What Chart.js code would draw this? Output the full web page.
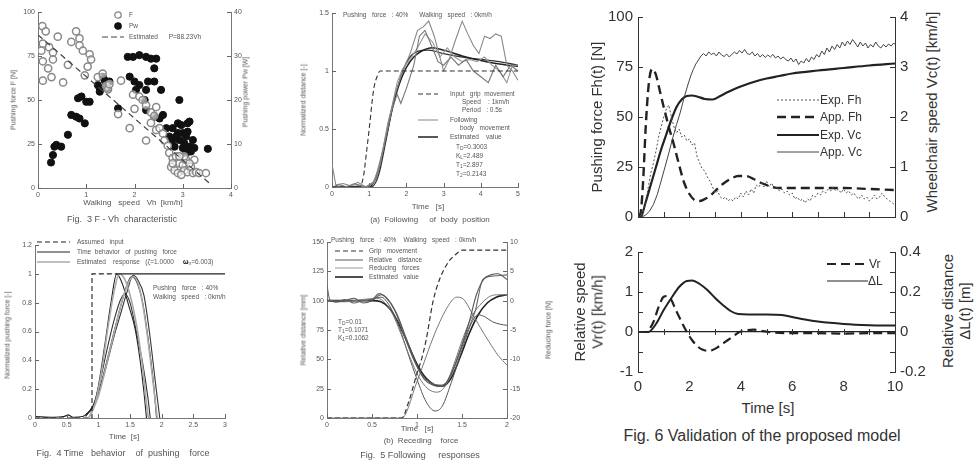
<!DOCTYPE html>
<html>
<head>
<meta charset="utf-8">
<script src="https://cdn.jsdelivr.net/npm/chart.js@4.4.1/dist/chart.umd.min.js"></script>
<style>
  body { margin:0; width:974px; height:465px; background:#fff; position:relative; overflow:hidden;
         font-family:'Liberation Sans', Arial, sans-serif; }
  canvas { position:absolute; }
  .t { position:absolute; white-space:nowrap; line-height:1; }
  .c { transform:translate(-50%,-50%); }
  .l { transform:translate(0,-50%); }
  .r { transform:translate(-50%,-50%) rotate(-90deg); }
  .lg { position:absolute; white-space:nowrap; line-height:1; display:flex; align-items:center; transform:translateY(-50%); }
  .lg svg { display:block; }
  .soft { filter:blur(0.4px); }
  sub { font-size:75%; vertical-align:-0.25em; line-height:0; }
</style>
</head>
<body>
<script>
// ---------------- Fig. 3  F - Vh characteristic ----------------
// [walking speed km/h, pushing force N]
const fig3Force = [[0.09,92],[0.16,89],[0.10,82],[0.23,80],[0.07,78],[0.31,77],[0.10,72],[0.21,68],[0.31,73],
  [0.10,61],[0.28,63],[0.41,86],[0.52,60],[0.62,70],[0.69,83],[0.79,89],[0.86,85],[0.86,81],[0.93,78],[1.07,76],
  [1.10,73],[0.97,64],[1.03,69],[1.24,63],[1.34,65],[1.41,58],[1.45,56],[1.48,59],[1.66,42],[1.72,61],[1.97,53],
  [2.00,45],[2.10,52],[2.17,50],[2.24,47],[2.34,43],[2.41,41],[2.45,46],[1.90,34],[2.24,27],[2.34,37],[2.45,33],
  [2.52,34],[2.59,31],[2.62,27],[2.69,24],[2.72,20],[2.79,17],[2.86,18],[2.93,14],[3.00,13],[3.03,10],[3.10,9],
  [3.07,16],[3.17,12],[3.21,8.5],[3.28,9],[3.34,8.5],[3.48,8.5],[2.76,12],[2.83,10],[2.90,8.5],[2.97,7.5],
  [3.24,16],[3.14,14],[3.03,18],[2.93,18],[2.79,14]];
// [walking speed km/h, pushing power W]
const fig3Power = [[0.27,5.8],[0.31,7.5],[0.34,9.4],[0.38,9.8],[0.48,9.4],[0.62,12.1],[0.69,16.6],[0.79,16.2],
  [0.86,15.8],[0.97,14.7],[0.83,20.4],[0.90,20.8],[1.00,19.6],[1.07,19.6],[1.24,23.4],[1.28,22.6],[1.34,25.3],
  [1.38,24.5],[1.41,23.4],[1.45,22.6],[1.28,21.9],[1.48,24.2],[1.66,18.1],[1.86,29.8],[1.97,29.8],[2.10,30.2],
  [2.24,29.8],[2.34,29.4],[2.45,29.4],[2.41,27.2],[1.90,25.3],[2.00,24.2],[2.10,23.4],[2.03,22.3],[2.24,22.3],
  [2.28,24.2],[2.41,24.2],[2.55,22.3],[2.21,20.0],[2.24,17.7],[2.41,16.2],[2.52,15.8],[2.59,16.6],[2.66,13.6],
  [2.79,13.6],[2.93,20.0],[2.90,14.7],[2.97,14.3],[3.10,14.7],[3.14,15.1],[2.72,11.7],[2.79,10.9],[2.86,11.7],
  [2.93,10.9],[3.00,12.5],[3.03,10.2],[3.07,11.7],[3.10,12.8],[3.14,9.4],[3.17,8.3],[3.21,10.9],[3.00,9.1],
  [2.83,9.4],[3.24,9.1],[3.52,8.9],[2.90,12.5],[3.07,7.9]];
const fig3Estimated = [[0,87],[3.55,2.8]];

// ---------------- Fig. 4  time behavior of pushing force ----------------
const fig4Input = [[0,0],[0.9,0],[0.9,1],[1.3,1],[3,1]];
const fig4TrialA = [[0,0.01],[0.3,0.005],[0.45,0.01],[0.53,0.02],[0.6,0.005],[0.75,0.01],[0.85,0.04],[0.92,0.08],
  [1.0,0.22],[1.1,0.5],[1.2,0.8],[1.29,1.0],[1.38,0.93],[1.48,0.78],[1.58,0.62],[1.66,0.4],[1.72,0.18],[1.76,0]];
const fig4TrialB = [[0.8,0.01],[0.95,0.12],[1.05,0.3],[1.15,0.5],[1.25,0.68],[1.35,0.82],[1.42,0.86],[1.5,0.8],
  [1.6,0.6],[1.7,0.38],[1.78,0.15],[1.82,0]];
const fig4TrialC = [[0.8,0.02],[0.95,0.1],[1.05,0.25],[1.15,0.42],[1.25,0.6],[1.35,0.77],[1.45,0.92],[1.52,0.98],
  [1.6,0.95],[1.7,0.8],[1.8,0.5],[1.88,0.2],[1.92,0]];
const fig4TrialD = [[0.8,0.02],[0.95,0.1],[1.05,0.24],[1.15,0.4],[1.25,0.57],[1.35,0.72],[1.45,0.87],[1.55,0.99],
  [1.62,0.96],[1.72,0.85],[1.82,0.55],[1.9,0.25],[1.97,0]];
const fig4EstA = [[0.85,0],[0.95,0.1],[1.05,0.32],[1.15,0.62],[1.25,0.88],[1.33,1.0],[1.42,0.96],[1.52,0.82],
  [1.62,0.6],[1.7,0.35],[1.76,0.1],[1.79,0]];
const fig4EstB = [[0.85,0],[1.0,0.15],[1.2,0.5],[1.4,0.85],[1.55,0.98],[1.65,0.9],[1.75,0.65],[1.85,0.3],[1.93,0]];

// ---------------- (a) following of body position ----------------
const figAInput = [[0,0],[0.74,0],[0.85,0.1],[0.92,0.28],[1.0,0.5],[1.12,0.84],[1.22,0.96],[1.3,1.0],[5,1.0]];
const figABody1 = [[0,0.2],[0.1,0.02],[0.3,0.03],[0.5,0.01],[0.7,0.04],[0.9,0.0],[1.1,0.03],[1.3,0.2],[1.5,0.55],
  [1.7,0.8],[1.9,1.0],[2.1,1.15],[2.3,1.35],[2.45,1.38],[2.6,1.43],[2.75,1.3],[2.9,1.12],[3.0,1.0],[3.15,1.1],
  [3.3,1.25],[3.5,1.43],[3.65,1.32],[3.8,1.22],[3.95,1.15],[4.1,1.3],[4.25,1.28],[4.4,1.32],[4.55,1.3],[4.7,1.05],
  [4.85,1.0],[5,0.92]];
const figABody2 = [[0,0],[0.2,0.02],[0.4,0.0],[0.6,0.03],[0.8,0.01],[1.0,0.0],[1.2,0.08],[1.4,0.35],[1.6,0.65],
  [1.75,0.8],[1.85,0.72],[2.0,0.85],[2.2,1.05],[2.35,1.3],[2.5,1.35],[2.7,1.2],[2.85,1.08],[3.0,1.05],[3.2,1.12],
  [3.4,1.05],[3.6,1.1],[3.8,1.0],[4.0,0.95],[4.2,0.9],[4.4,1.05],[4.6,0.95],[4.8,1.05],[5,1.0]];
const figABody3 = [[0,0],[0.3,0.0],[0.6,0.02],[0.9,0.0],[1.15,0.05],[1.35,0.3],[1.55,0.6],[1.75,0.9],[1.9,1.02],
  [2.1,1.1],[2.3,1.2],[2.5,1.32],[2.7,1.25],[2.9,1.12],[3.1,1.2],[3.3,1.12],[3.5,1.08],[3.7,1.1],[3.9,1.08],
  [4.1,1.12],[4.3,1.05],[4.5,1.0],[4.7,0.9],[4.85,1.05],[5,1.05]];
const figAEst1 = [[0,0],[1.0,0],[1.2,0.1],[1.4,0.35],[1.6,0.65],[1.8,0.88],[2.0,1.03],[2.2,1.12],[2.4,1.17],
  [2.7,1.2],[3.0,1.18],[3.5,1.13],[4,1.09],[4.5,1.06],[5,1.04]];
const figAEst2 = [[0,0],[1.05,0],[1.25,0.1],[1.45,0.4],[1.65,0.72],[1.85,0.95],[2.05,1.1],[2.3,1.17],[2.6,1.18],
  [3.0,1.15],[3.5,1.12],[4,1.1],[4.5,1.08],[5,1.05]];

// ---------------- (b) receding force ----------------
const figBGrip = [[0,0],[0.83,0],[0.9,12],[1.0,38],[1.05,50],[1.1,66],[1.18,100],[1.25,118],[1.35,133],
  [1.44,140],[1.5,143],[2.0,143]];
const figBDist1 = [[0,100],[0.1,99],[0.2,100],[0.3,102],[0.4,98],[0.5,100],[0.6,105],[0.68,101],[0.78,88],
  [0.88,68],[0.98,48],[1.08,33],[1.18,28],[1.28,27],[1.38,38],[1.48,58],[1.58,82],[1.66,105],[1.74,118],
  [1.82,122],[1.9,123],[2.0,118]];
const figBDist2 = [[0,113],[0.03,101],[0.1,99],[0.2,101],[0.3,98],[0.4,100],[0.5,101],[0.58,106],[0.65,103],
  [0.75,92],[0.85,72],[0.95,52],[1.05,37],[1.15,30],[1.25,28],[1.35,32],[1.45,50],[1.55,72],[1.65,92],
  [1.73,118],[1.85,121],[2.0,122]];
const figBDist3 = [[0,100],[0.2,99],[0.4,101],[0.55,102],[0.62,100],[0.72,90],[0.82,72],[0.92,52],[1.02,35],
  [1.12,25],[1.22,22],[1.32,28],[1.42,48],[1.52,70],[1.62,88],[1.72,98],[1.82,104],[1.9,105],[2.0,105]];
const figBDist4 = [[0,100],[0.3,100],[0.5,101],[0.6,103],[0.7,95],[0.8,78],[0.9,55],[1.0,33],[1.1,14],[1.2,6],
  [1.28,10],[1.38,30],[1.5,58],[1.6,80],[1.68,88],[1.76,86],[1.84,82],[1.92,80],[2.0,79]];
// reducing force, N (right axis)
const figBForce = [[0,-20],[0.83,-20],[1.0,-13.8],[1.2,-5.5],[1.35,-0.8],[1.44,0.6],[1.52,0.2],[1.6,-1.8],
  [1.7,-4.5],[1.8,-7],[1.9,-9.3],[2.0,-11]];
const figBEst = [[0,100],[0.5,100],[0.6,99],[0.7,93],[0.8,80],[0.9,63],[1.0,46],[1.1,34],[1.2,28],[1.28,27],
  [1.38,34],[1.48,52],[1.58,72],[1.68,88],[1.78,98],[1.88,103],[2.0,105]];

// ---------------- Fig. 6  validation of the proposed model ----------------
const fig6ExpFh = [[0,0],[0.1,0],[0.2,3],[0.3,8],[0.4,15],[0.5,22],[0.6,27],[0.7,33],[0.8,40],[0.9,45],[1.0,50],
  [1.1,54],[1.2,56],[1.3,50],[1.4,45],[1.5,42],[1.6,44],[1.7,40],[1.8,41],[1.9,38],[2.0,39],[2.1,36],[2.2,37],
  [2.3,30],[2.4,27],[2.5,24],[2.6,23],[2.7,20],[2.8,18],[2.9,15],[3.0,12],[3.1,13],[3.2,10],[3.3,9],[3.4,10],
  [3.5,8],[3.6,9],[3.7,8],[3.8,10],[3.9,9],[4.0,12],[4.1,10],[4.2,13],[4.3,11],[4.4,14],[4.5,12],[4.6,16],
  [4.7,15],[4.8,17],[4.9,15],[5.0,18],[5.1,15],[5.2,17],[5.3,14],[5.4,15],[5.5,13],[5.6,14],[5.7,12],[5.8,13],
  [5.9,11],[6.0,12],[6.1,9],[6.2,10],[6.3,8],[6.4,9],[6.5,7],[6.6,9],[6.7,8],[6.8,11],[6.9,10],[7.0,12],[7.1,11],
  [7.2,13],[7.3,12],[7.4,14],[7.5,13],[7.6,15],[7.7,13],[7.8,14],[7.9,12],[8.0,14],[8.1,12],[8.2,13],[8.3,11],
  [8.4,12],[8.5,10],[8.6,9],[8.7,11],[8.8,9],[8.9,10],[9.0,8],[9.1,9],[9.2,11],[9.3,9],[9.4,10],[9.5,12],
  [9.6,10],[9.7,9],[9.8,8],[9.9,7],[10,6]];
const fig6AppFh = [[0,0],[0.1,2],[0.2,18],[0.3,45],[0.4,64],[0.5,73],[0.58,74],[0.7,71],[0.85,63],[1.0,55],
  [1.2,45],[1.4,36],[1.6,26],[1.8,17],[2.0,11.5],[2.2,8.5],[2.4,8],[2.6,9],[2.8,10.5],[3.0,13],[3.3,16.5],
  [3.6,19],[3.9,20.5],[4.2,20.5],[4.5,19],[4.8,17],[5.1,15.5],[5.5,14.5],[6,14.5],[7,14.5],[8,14.5],[9,14],[10,13.5]];
const fig6ExpVc = [[0,0],[0.15,0],[0.3,0.04],[0.45,0.12],[0.6,0.25],[0.75,0.45],[0.9,0.72],[1.05,1.0],[1.2,1.28],
  [1.35,1.58],[1.5,1.85],[1.65,2.1],[1.8,2.4],[1.95,2.66],[2.05,2.82],[2.15,2.95],[2.25,3.06],[2.35,3.14],
  [2.45,3.22],[2.55,3.27],[2.65,3.22],[2.75,3.3],[2.85,3.25],[2.95,3.28],[3.05,3.22],[3.15,3.3],[3.25,3.24],
  [3.35,3.21],[3.45,3.26],[3.55,3.2],[3.65,3.25],[3.75,3.3],[3.85,3.26],[3.95,3.33],[4.05,3.28],[4.15,3.35],
  [4.25,3.27],[4.35,3.25],[4.45,3.3],[4.55,3.22],[4.65,3.27],[4.75,3.2],[4.85,3.25],[4.95,3.19],[5.05,3.24],
  [5.15,3.2],[5.25,3.25],[5.35,3.18],[5.45,3.22],[5.55,3.16],[5.65,3.2],[5.75,3.15],[5.85,3.12],[5.95,3.18],
  [6.05,3.1],[6.15,3.16],[6.25,3.05],[6.35,3.12],[6.45,3.08],[6.55,3.17],[6.65,3.1],[6.75,3.2],[6.85,3.15],
  [6.95,3.25],[7.05,3.2],[7.15,3.32],[7.25,3.25],[7.35,3.38],[7.45,3.3],[7.55,3.42],[7.65,3.35],[7.75,3.45],
  [7.85,3.38],[7.95,3.5],[8.05,3.42],[8.15,3.52],[8.25,3.45],[8.35,3.55],[8.45,3.48],[8.55,3.4],[8.65,3.5],
  [8.75,3.42],[8.85,3.48],[8.95,3.38],[9.05,3.45],[9.15,3.4],[9.25,3.5],[9.35,3.42],[9.45,3.38],[9.55,3.45],
  [9.65,3.4],[9.75,3.46],[9.85,3.42],[9.95,3.48],[10,3.45]];
const fig6AppVc = [[0,0],[0.1,0],[0.3,0.3],[0.5,0.65],[0.7,1.0],[0.9,1.35],[1.1,1.65],[1.3,1.95],[1.5,2.2],
  [1.7,2.35],[1.9,2.42],[2.1,2.43],[2.3,2.41],[2.6,2.36],[2.9,2.35],[3.2,2.42],[3.5,2.5],[3.8,2.57],[4.1,2.63],
  [4.5,2.7],[5,2.77],[5.5,2.82],[6,2.87],[7,2.93],[8,2.98],[9,3.03],[10,3.07]];
const fig6Vr = [[0,0],[0.3,0],[0.45,0.08],[0.6,0.25],[0.8,0.62],[1.0,0.88],[1.15,0.9],[1.3,0.8],[1.45,0.58],
  [1.6,0.38],[1.75,0.18],[1.9,0.0],[2.1,-0.2],[2.3,-0.35],[2.5,-0.44],[2.7,-0.47],[2.9,-0.45],[3.1,-0.38],
  [3.3,-0.29],[3.5,-0.2],[3.7,-0.11],[3.95,0.0],[4.2,0.04],[4.5,0.06],[4.8,0.03],[5.2,-0.01],[6,-0.03],
  [7,-0.03],[8,-0.04],[9,-0.03],[10,-0.03]];
const fig6DeltaL = [[0,0],[0.4,0],[0.7,0.04],[1.0,0.11],[1.3,0.17],[1.6,0.225],[1.9,0.255],[2.1,0.257],
  [2.4,0.24],[2.7,0.21],[3.0,0.17],[3.3,0.135],[3.6,0.105],[3.9,0.09],[4.3,0.088],[5.0,0.088],[5.6,0.085],
  [6.0,0.075],[6.5,0.062],[7.0,0.052],[8.0,0.04],[9.0,0.034],[10,0.032]];

// ---------------- helpers ----------------
const FONT = "'Liberation Sans', Arial, sans-serif";
const xy = pairs => pairs.map(([x, y]) => ({ x, y }));
let softText = true;   // small scanned-looking panels get a slight blur

function txt(html, x, y, size, cls, color, extra) {
  const d = document.createElement('div');
  d.className = 't ' + (cls || 'c') + (softText ? ' soft' : '');
  d.style.cssText = `left:${x}px;top:${y}px;font-size:${size}px;color:${color || '#555'};${extra || ''}`;
  d.innerHTML = html;
  document.body.appendChild(d);
}

// legend row: a line / marker sample followed by its label
function legRow(x, y, sample, label, size, color, gap) {
  const d = document.createElement('div');
  d.className = 'lg' + (softText ? ' soft' : '');
  d.style.cssText = `left:${x}px;top:${y}px;font-size:${size}px;color:${color}`;
  d.innerHTML = sample + `<span style="margin-left:${gap}px">${label}</span>`;
  document.body.appendChild(d);
}
const lineSample = (w, stroke, lw, dash) =>
  `<svg width="${w}" height="8"><line x1="0" y1="4" x2="${w}" y2="4" stroke="${stroke}" stroke-width="${lw}"` +
  (dash ? ` stroke-dasharray="${dash}"` : '') + `/></svg>`;
const dotSample = (w, fill, stroke) =>
  `<svg width="${w}" height="9"><circle cx="${w / 2}" cy="4.5" r="3.2" fill="${fill}" stroke="${stroke}" stroke-width="1.3"/></svg>`;

// canvas sized so the plot area lands on the given box
function frame(box, m) {
  const c = document.createElement('canvas');
  const w = box.r - box.l + m.l + m.r, h = box.b - box.t + m.t + m.b;
  c.width = w; c.height = h;
  c.style.cssText = `left:${box.l - m.l}px;top:${box.t - m.t}px;width:${w}px;height:${h}px;` + (m.css || '');
  document.body.appendChild(c);
  return c.getContext('2d');
}

function axis(pos, min, max, step, size, o) {
  o = o || {};
  const horiz = pos === 'bottom';
  return {
    type: 'linear', position: pos, min, max, display: true,
    ticks: { stepSize: step, autoSkip: false, maxRotation: 0, includeBounds: false,
             font: { family: FONT, size: o.font || 7 }, color: o.color || '#555', padding: o.pad || 3,
             callback: o.cb || (v => String(Math.round(v * 1000) / 1000)) },
    grid: o.grid || { display: true, drawOnChartArea: false, drawTicks: false },
    border: { display: o.border !== false, color: o.axisColor || '#777', width: o.bw || 1 },
    afterFit: s => {
      if (horiz) s.height = size; else s.width = size;
      s.paddingLeft = 0; s.paddingRight = 0; s.paddingTop = 0; s.paddingBottom = 0;
    }
  };
}

// short tick marks drawn on the inside of the plot area
const innerTicks = {
  id: 'innerTicks',
  afterDatasetsDraw(chart, args, opts) {
    const ctx = chart.ctx, a = chart.chartArea;
    ctx.save();
    ctx.strokeStyle = opts.color || '#666';
    ctx.lineWidth = opts.width || 1;
    for (const spec of (opts.axes || [])) {
      const sc = chart.scales[spec.id], len = spec.len || 4;
      for (const tk of sc.ticks) {
        const p = Math.round(sc.getPixelForValue(tk.value)) + 0.5;
        ctx.beginPath();
        if (sc.isHorizontal()) {
          const base = spec.atScale ? chart.scales[spec.atScale].getPixelForValue(spec.at) : a.bottom;
          if (spec.cross) { ctx.moveTo(p, base - len / 2); ctx.lineTo(p, base + len / 2); }
          else { ctx.moveTo(p, base); ctx.lineTo(p, base - len); }
        } else if (sc.position === 'left') {
          ctx.moveTo(a.left, p); ctx.lineTo(a.left + len, p);
        } else {
          ctx.moveTo(a.right, p); ctx.lineTo(a.right - len, p);
        }
        ctx.stroke();
      }
    }
    ctx.restore();
  }
};

function chart(ctx, datasets, scales, ticksSpec, padRight) {
  return new Chart(ctx, {
    type: 'scatter',
    data: { datasets },
    options: {
      responsive: false, animation: false, events: [],
      layout: { padding: { top: ctx.canvas._mt || 0, right: padRight || 0, left: 0, bottom: 0 } },
      plugins: { legend: { display: false }, tooltip: { enabled: false }, innerTicks: ticksSpec },
      elements: { point: { radius: 0 } },
      scales
    },
    plugins: [innerTicks]
  });
}

function line(data, color, width, o) {
  o = o || {};
  return Object.assign({
    data: xy(data), showLine: true, borderColor: color, borderWidth: width, pointRadius: 0,
    fill: false, tension: 0
  }, o);
}
const smooth = { cubicInterpolationMode: 'monotone' };

function make(box, m, datasets, scales, ticksSpec) {
  const ctx = frame(box, m);
  ctx.canvas._mt = m.t;
  return chart(ctx, datasets, scales, ticksSpec, scales.y2 ? 0 : m.r);
}

const SOFT = 'filter:blur(0.45px);';

// ================= Fig. 3 =================
make({ l: 38, t: 12, r: 231, b: 188 }, { l: 26, r: 16, t: 6, b: 14, css: SOFT }, [
  line(fig3Estimated, '#444', 1.2, { borderDash: [6, 4] }),
  { data: xy(fig3Force), pointRadius: 3.6, pointBorderColor: '#888', pointBackgroundColor: 'rgba(255,255,255,0.6)',
    pointBorderWidth: 1.5, yAxisID: 'y' },
  { data: xy(fig3Power), pointRadius: 3.6, pointBorderColor: '#111', pointBackgroundColor: '#111',
    pointBorderWidth: 1, yAxisID: 'y2' }
], {
  x: axis('bottom', 0, 4, 1, 14),
  y: axis('left', 0, 100, 25, 26),
  y2: axis('right', 0, 40, 10, 16)
}, { axes: [{ id: 'x' }, { id: 'y' }, { id: 'y2' }] });

txt('Pushing force F [N]', 13, 100, 7, 'r');
txt('Pushing power Pw [W]', 245, 92, 7, 'r');
txt('Walking&nbsp;&nbsp; speed&nbsp;&nbsp; Vh&nbsp; [km/h]', 133, 203, 8, 'c');
txt('Fig.&nbsp; 3 F - Vh&nbsp; characteristic', 122, 219, 9, 'c');
legRow(113, 15, dotSample(10, '#fff', '#888'), 'F', 6.5, '#555', 6);
legRow(113, 26, dotSample(10, '#111', '#111'), 'Pw', 6.5, '#555', 6);
legRow(102, 37, lineSample(22, '#444', 1.2, '6 3'), 'Estimated&nbsp;&nbsp;&nbsp;&nbsp;&nbsp; P=88.23Vh', 6.5, '#555', 5);

// ================= Fig. 4 =================
make({ l: 35, t: 245, r: 225, b: 418 }, { l: 20, r: 12, t: 8, b: 14, css: SOFT }, [
  line(fig4Input, '#222', 1.1, { segment: { borderDash: c => c.p0.parsed.x < 1.25 ? [5, 3] : undefined } }),
  line(fig4EstA, '#aaa', 1.6, smooth),
  line(fig4EstB, '#aaa', 1.6, smooth),
  line(fig4TrialA, '#222', 1.1, smooth),
  line(fig4TrialB, '#333', 1.1, smooth),
  line(fig4TrialC, '#222', 1.1, smooth),
  line(fig4TrialD, '#333', 1.1, smooth)
], {
  x: axis('bottom', 0, 3, 0.5, 14),
  y: axis('left', 0, 1.2, 0.2, 20)
}, { axes: [{ id: 'x' }, { id: 'y' }] });

txt('Normalized pushing force [-]', 7, 335, 7, 'r');
txt('Time&nbsp; [s]', 124, 437, 8, 'c');
txt('Fig.&nbsp; 4 Time&nbsp;&nbsp; behavior&nbsp;&nbsp;&nbsp; of&nbsp; pushing&nbsp;&nbsp;&nbsp; force', 123, 453, 9, 'c');
legRow(37, 242, lineSample(33, '#222', 1.1, '5 3'), 'Assumed&nbsp;&nbsp; input', 6.5, '#555', 7);
legRow(37, 252, lineSample(33, '#222', 1.2), 'Time&nbsp; behavior&nbsp;&nbsp; of&nbsp; pushing&nbsp;&nbsp; force', 6.5, '#555', 7);
legRow(37, 262, lineSample(33, '#aaa', 1.6), 'Estimated&nbsp;&nbsp;&nbsp; response&nbsp;&nbsp; (ζ=1.0000&nbsp;&nbsp;&nbsp;&nbsp; <b style="color:#000">ω</b><sub>n</sub>=6.003)', 6.5, '#555', 7);
txt('Pushing&nbsp;&nbsp; force&nbsp;&nbsp; : 40%', 153, 288, 6.5, 'l');
txt('Walking&nbsp;&nbsp; speed&nbsp;&nbsp; : 0km/h', 153, 297, 6.5, 'l');

// ================= (a) following of body position =================
make({ l: 332, t: 13, r: 518, b: 187 }, { l: 20, r: 10, t: 6, b: 14, css: SOFT }, [
  line(figAInput, '#333', 1.1, Object.assign({ borderDash: [5, 3] }, smooth)),
  line(figABody1, '#888', 1.1),
  line(figABody2, '#777', 1.1),
  line(figABody3, '#999', 1.1),
  line(figAEst1, '#222', 1.5, smooth),
  line(figAEst2, '#333', 1.3, smooth)
], {
  x: axis('bottom', 0, 5, 1, 14),
  y: axis('left', 0, 1.5, 0.5, 20)
}, { axes: [{ id: 'x' }, { id: 'y' }] });

txt('Normalized distance [-]', 303, 100, 7, 'r');
txt('Time&nbsp;&nbsp; [s]', 428, 207, 8, 'c');
txt('(a)&nbsp; Following&nbsp;&nbsp;&nbsp;&nbsp; of&nbsp; body&nbsp; position', 430, 220, 8, 'c');
txt('Pushing&nbsp;&nbsp; force&nbsp;&nbsp; : 40%&nbsp;&nbsp;&nbsp;&nbsp;&nbsp; Walking&nbsp;&nbsp; speed&nbsp;&nbsp; : 0km/h', 343, 15, 6.5, 'l');
legRow(418, 94, lineSample(20, '#333', 1.1, '5 3'), 'Input&nbsp;&nbsp; grip&nbsp; movement', 6.5, '#555', 12);
txt('Speed&nbsp;&nbsp;&nbsp; : 1km/h', 462, 102, 6.5, 'l');
txt('Period&nbsp;&nbsp; : 0.5s', 462, 110, 6.5, 'l');
legRow(418, 120, lineSample(20, '#999', 1.2), 'Following', 6.5, '#555', 12);
txt('body&nbsp;&nbsp; movement', 460, 128, 6.5, 'l');
legRow(418, 137, lineSample(20, '#222', 1.5), 'Estimated&nbsp;&nbsp;&nbsp; value', 6.5, '#555', 12);
txt('T<sub>D</sub>=0.3003', 456, 147, 6.5, 'l');
txt('K<sub>L</sub>=2.489', 456, 156, 6.5, 'l');
txt('T<sub>1</sub>=2.897', 456, 165, 6.5, 'l');
txt('T<sub>2</sub>=0.2143', 456, 174, 6.5, 'l');

// ================= (b) receding force =================
make({ l: 327, t: 242, r: 507, b: 418 }, { l: 20, r: 18, t: 8, b: 14, css: SOFT }, [
  line(figBGrip, '#333', 1.2, Object.assign({ borderDash: [5, 3] }, smooth)),
  line(figBDist1, '#555', 1.1, smooth),
  line(figBDist2, '#666', 1.1, smooth),
  line(figBDist3, '#777', 1.0, smooth),
  line(figBDist4, '#555', 1.0, smooth),
  line(figBForce, '#777', 1.0, Object.assign({ yAxisID: 'y2' }, smooth)),
  line(figBEst, '#222', 1.6, smooth)
], {
  x: axis('bottom', 0, 2, 0.5, 14),
  y: axis('left', 0, 150, 25, 20),
  y2: axis('right', -20, 10, 5, 18)
}, { axes: [{ id: 'x' }, { id: 'y' }, { id: 'y2' }] });

txt('Relative distance [mm]', 303, 330, 7, 'r');
txt('Reducing force [N]', 548, 330, 7, 'r');
txt('Time&nbsp;&nbsp; [s]', 417, 429, 8, 'c');
txt('(b)&nbsp; Receding&nbsp;&nbsp;&nbsp; force', 421, 441, 8, 'c');
txt('Fig.&nbsp; 5 Following&nbsp;&nbsp;&nbsp;&nbsp; responses', 420, 455, 9, 'c');
txt('Pushing&nbsp;&nbsp; force&nbsp;&nbsp; : 40%&nbsp;&nbsp;&nbsp; Walking&nbsp;&nbsp; speed&nbsp;&nbsp; : 0km/h', 331, 240, 6.5, 'l');
legRow(335, 251, lineSample(28, '#333', 1.2, '5 3'), 'Grip&nbsp;&nbsp; movement', 6.5, '#555', 6);
legRow(335, 260, lineSample(28, '#666', 1.1), 'Relative&nbsp;&nbsp; distance', 6.5, '#555', 6);
legRow(335, 268, lineSample(28, '#999', 1.0), 'Reducing&nbsp;&nbsp; forces', 6.5, '#555', 6);
legRow(335, 277, lineSample(28, '#222', 1.6), 'Estimated&nbsp;&nbsp; value', 6.5, '#555', 6);
txt('T<sub>D</sub>=0.01', 338, 322, 6.5, 'l');
txt('T<sub>1</sub>=0.1071', 338, 330, 6.5, 'l');
txt('K<sub>1</sub>=0.1062', 338, 338, 6.5, 'l');

// ================= Fig. 6 (top) =================
softText = false;
const D = '#333';
make({ l: 638, t: 17, r: 895, b: 217 }, { l: 40, r: 24, t: 10, b: 8 }, [
  line(fig6ExpFh, '#555', 1, { borderDash: [2, 2] }),
  line(fig6AppFh, '#222', 2.4, Object.assign({ borderDash: [9, 5] }, smooth)),
  line(fig6ExpVc, '#444', 1, { yAxisID: 'y2' }),
  line(fig6AppVc, '#222', 2.2, Object.assign({ yAxisID: 'y2' }, smooth))
], {
  x: axis('bottom', 0, 10, 1, 8, { cb: () => '', axisColor: D, font: 15 }),
  y: axis('left', 0, 100, 25, 40, { font: 15, color: D, axisColor: D, pad: 5 }),
  y2: axis('right', 0, 4, 1, 24, { font: 15, color: D, axisColor: D, pad: 5 })
}, { color: D, axes: [{ id: 'x', len: 5 }, { id: 'y', len: 5 }, { id: 'y2', len: 5 }] });

txt('Pushing force Fh(t) [N]', 596, 117, 15, 'r', D);
txt('Wheelchair speed Vc(t) [km/h]', 931, 112, 15, 'r', D);
legRow(777, 100, lineSample(42, '#555', 1, '2 2'), 'Exp. Fh', 12, D, 1);
legRow(777, 117, lineSample(42, '#222', 2.4, '9 5'), 'App. Fh', 12, D, 1);
legRow(777, 135, lineSample(42, '#222', 2), 'Exp. Vc', 12, D, 1);
legRow(777, 152, lineSample(42, '#444', 1), 'App. Vc', 12, D, 1);

// ================= Fig. 6 (bottom) =================
const zeroGrid = { display: true, drawOnChartArea: true, drawTicks: false,
                   color: c => (c.tick && c.tick.value === 0) ? '#222' : 'rgba(0,0,0,0)', lineWidth: 1.2 };
make({ l: 638, t: 252, r: 895, b: 372 }, { l: 40, r: 40, t: 10, b: 24 }, [
  line(fig6Vr, '#222', 2.2, Object.assign({ borderDash: [9, 5] }, smooth)),
  line(fig6DeltaL, '#222', 2, Object.assign({ yAxisID: 'y2' }, smooth))
], {
  x: axis('bottom', 0, 10, 1, 24, { font: 15, color: D, border: false, pad: 6,
        cb: v => (Math.round(v) % 2 === 0 ? String(Math.round(v)) : '') }),
  y: axis('left', -1, 2, 0.5, 40, { font: 15, color: D, axisColor: D, pad: 5, grid: zeroGrid,
        cb: v => (Math.abs(v - Math.round(v)) < 1e-6 ? String(Math.round(v)) : '') }),
  y2: axis('right', -0.2, 0.4, 0.1, 40, { font: 15, color: D, axisColor: D, pad: 5,
        cb: v => { const k = Math.round(v * 10); return k % 2 === 0 ? (k === 0 ? '0' : String(k / 10)) : ''; } })
}, { color: D, axes: [{ id: 'x', len: 6, cross: true, atScale: 'y', at: 0 }, { id: 'y', len: 5 }, { id: 'y2', len: 5 }] });

txt('Relative speed', 579, 312, 15, 'r', D);
txt('Vr(t) [km/h]', 597, 312, 15, 'r', D);
txt('Relative distance', 947, 311, 15, 'r', D);
txt('ΔL(t) [m]', 964, 311, 15, 'r', D);
txt('Time [s]', 768, 407, 15, 'c', D);
txt('Fig. 6 Validation of the proposed model', 762, 436, 16, 'c', D);
legRow(827, 264, lineSample(41, '#222', 2.2, '9 5'), 'Vr', 12, D, 1);
legRow(827, 281, lineSample(41, '#222', 1.2), 'ΔL', 12, D, 0);
</script>
</body>
</html>
